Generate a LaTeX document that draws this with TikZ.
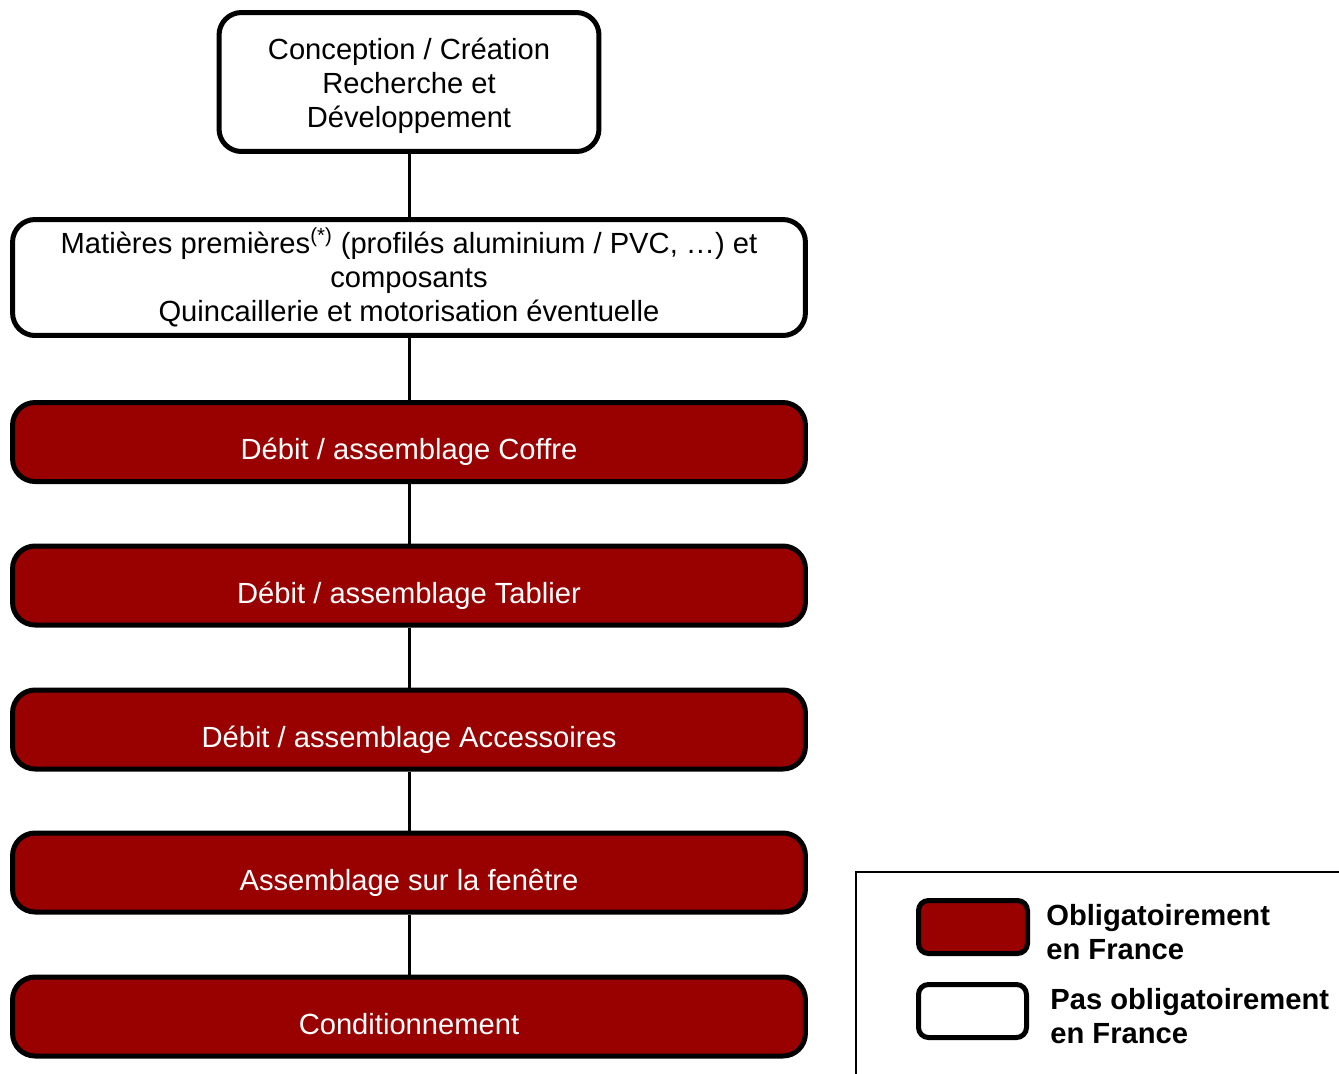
\documentclass[tikz,border=0pt]{standalone}
\usepackage{fontspec}
\setmainfont{Liberation Sans}
\usepackage{tikz}
\definecolor{bordeaux}{HTML}{990000}

\tikzset{
    etape/.style={draw, line width=0.1cm, rounded corners=0.45cm, align=center, inner sep=0pt,
        font=\fontsize{16.6}{19.35}\selectfont},
    oblig/.style={etape, fill=bordeaux, text=white, minimum width=15.86cm, minimum height=1.58cm,
        text height=20.4pt, text depth=0pt},
    libre/.style={etape, fill=white},
    lien/.style={line width=0.06cm},
    legende/.style={font=\fontsize{16.6}{19.35}\selectfont\bfseries, align=left, anchor=west, inner sep=0pt}
}

\begin{document}
\begin{tikzpicture}[x=0.02cm, y=-0.02cm]
        \def\xm{409}
        \useasboundingbox (0,0) rectangle (1339,1073);

        \node[libre, minimum width=7.6cm, minimum height=2.78cm] (conception) at (\xm,82) {};
        \node[align=center, inner sep=0pt, font=\fontsize{16.6}{19.35}\selectfont] (txtConception) at (\xm,86)
            {Conception / Création\\Recherche et\\Développement};
        \node[libre, minimum width=15.86cm, minimum height=2.32cm] (matieres) at (\xm,277.5)
            {Matières premières\textsuperscript{(*)} (profilés aluminium / PVC, …) et\\composants\\Quincaillerie et motorisation éventuelle};

        \node[oblig] (coffre) at (\xm,442) {Débit / assemblage Coffre};
        \node[oblig] (tablier) at (\xm,585.5) {Débit / assemblage Tablier};
        \node[oblig] (accessoires) at (\xm,729.5) {Débit / assemblage Accessoires};
        \node[oblig] (fenetre) at (\xm,872.5) {Assemblage sur la fenêtre};
        \node[oblig] (condit) at (\xm,1016.5) {Conditionnement};

        \draw[lien] (conception.south) -- (matieres.north);
        \draw[lien] (matieres.south) -- (coffre.north);
        \draw[lien] (coffre.south) -- (tablier.north);
        \draw[lien] (tablier.south) -- (accessoires.north);
        \draw[lien] (accessoires.south) -- (fenetre.north);
        \draw[lien] (fenetre.south) -- (condit.north);

        % legende
        \draw[line width=0.03cm] (856,1090) -- (856,872) -- (1350,872);
        \node[etape, fill=bordeaux, rounded corners=0.2cm, minimum width=2.18cm, minimum height=1.06cm] (legRouge) at (973,927) {};
        \node[etape, fill=white, rounded corners=0.2cm, minimum width=2.16cm, minimum height=1.06cm] (legBlanc) at (972.5,1011) {};
        \node[legende] (txtRouge) at (1046,932) {Obligatoirement\\en France};
        \node[legende] (txtBlanc) at (1050,1016) {Pas obligatoirement\\en France};
\end{tikzpicture}
\end{document}
